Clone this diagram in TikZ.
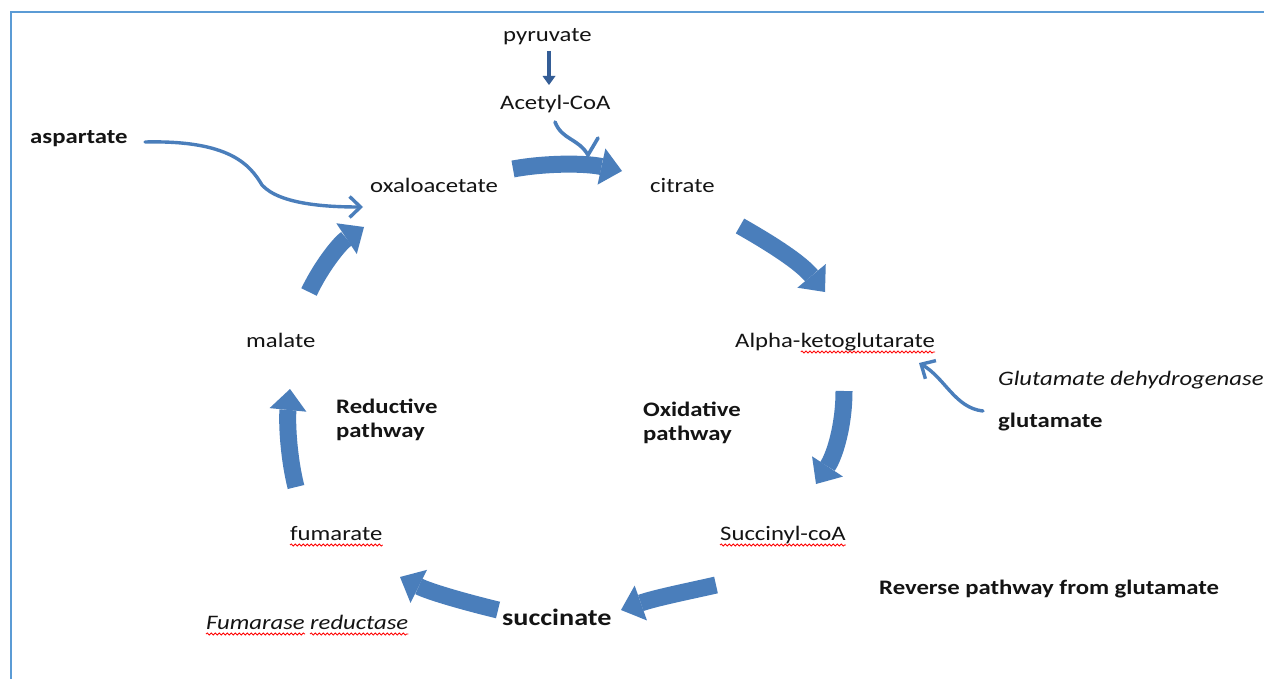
\documentclass[tikz,border=0pt]{standalone}
\usepackage{fontspec}
\setmainfont{Carlito}[FakeStretch=1.2]
\usetikzlibrary{arrows.meta,decorations.pathmorphing}
\definecolor{arrowblue}{RGB}{74,126,187}
\definecolor{darkblue}{RGB}{52,93,150}
\definecolor{framec}{RGB}{91,155,213}
\tikzset{
  txt/.style={font=\fontsize{20.6}{24}\selectfont, inner sep=0pt, text=black!92, anchor=base west},
  bold/.style={txt, font=\fontsize{20.6}{24}\selectfont\bfseries},
  ital/.style={txt, font=\fontsize{20.6}{24}\selectfont\itshape},
  bigarrow/.style={draw=arrowblue, line width=17pt, -{Triangle[width=37pt,length=21pt,line width=0pt]}},
  thinarrow/.style={draw=arrowblue, line width=3.4pt, line cap=round, line join=round, -{Straight Barb[length=11pt,width=21pt,line width=3.4pt]}},
  squig/.style={draw=red, line width=0.8pt, decorate, decoration={snake, amplitude=1.1pt, segment length=4pt}}
}
\begin{document}
\begin{tikzpicture}[x=1pt,y=-1pt]
\useasboundingbox (0,0) rectangle (1264,679);
\fill[white] (0,0) rectangle (1264,679);
\draw[framec, line width=2pt] (11,679) -- (11,12) -- (1264,12);

% metabolites
\node[txt] (pyr) at (503,42) {pyruvate};
\node[txt] (acoa) at (500,110) {Acetyl-CoA};
\node[txt] (oaa) at (370,193) {oxaloacetate};
\node[txt] (cit) at (650,193) {citrate};
\node[bold] (asp) at (30,144) {aspartate};
\node[txt] (akg) at (735,347) {Alpha-};
\node[txt] (akg2) at (akg.base east) {ketoglutarate};
\node[txt] (mal) at (246,347) {malate};
\node[ital] (gdh) at (998,385) {Glutamate dehydrogenase};
\node[bold] (glu) at (998,427) {glutamate};
\node[bold, align=left, anchor=north west] (red) at (336,399) {Reductive\\pathway};
\node[bold, align=left, anchor=north west] (oxi) at (643,402) {Oxidative\\pathway};
\node[txt] (fum) at (290,540) {fumarate};
\node[txt] (sca) at (720,540) {Succinyl-coA};
\node[bold] (rev) at (879,594) {Reverse pathway from glutamate};
\node[txt, font=\fontsize{23.5}{27}\selectfont\bfseries] (suc) at (502,625) {succinate};
\node[ital] (fr) at (206,629) {Fumarase};
\node[ital] (fr2) at ([xshift=5pt]fr.base east) {reductase};

% spelling squiggles
\foreach \n in {akg2,fum,sca,fr,fr2}
  \draw[squig] ([yshift=-5pt]\n.base west) -- ([yshift=-5pt]\n.base east);

% arrow end points
\coordinate (p1) at (549,51);
\coordinate (p2) at (549,85);
\coordinate (a1s) at (513,169);
\coordinate (a1e) at (622,171);
\coordinate (a2s) at (740,226);
\coordinate (a2e) at (825,292);
\coordinate (a3s) at (844,391);
\coordinate (a3e) at (816,484);
\coordinate (a4s) at (716,585);
\coordinate (a4e) at (621,610);
\coordinate (a5s) at (498,610);
\coordinate (a5e) at (400,577);
\coordinate (a6s) at (296,487);
\coordinate (a6e) at (290,389);
\coordinate (a7s) at (309,292);
\coordinate (a7e) at (364,227);
\coordinate (asps) at (145,142);
\coordinate (aspe) at (363,207);
\coordinate (glus) at (983,411);
\coordinate (glue) at (919,363);
\coordinate (acs) at (555,122);
\coordinate (act) at (588,155);
\coordinate (acb) at (598,138);

% pyruvate -> acetyl-CoA
\draw[darkblue, line width=4pt, -{Triangle[width=13pt,length=9pt,line width=0pt]}] (p1) -- (p2);

% cycle arrows
\draw[bigarrow] (a1s) .. controls (545,163) and (585,163) .. (a1e);
\draw[bigarrow] (a2s) .. controls (770,243) and (800,262) .. (a2e);
\draw[bigarrow] (a3s) .. controls (844,425) and (835,455) .. (a3e);
\draw[bigarrow] (a4s) .. controls (685,592) and (655,598) .. (a4e);
\draw[bigarrow] (a5s) .. controls (465,602) and (430,592) .. (a5e);
\draw[bigarrow] (a6s) .. controls (288,455) and (287,420) .. (a6e);
\draw[bigarrow] (a7s) .. controls (322,265) and (340,243) .. (a7e);

% side inputs
\draw[thinarrow] (asps) .. controls (230,140) and (250,165) .. (262,185) .. controls (280,205) and (330,207) .. (aspe);
\draw[thinarrow] (glus) .. controls (955,408) and (945,378) .. (glue);
\draw[draw=arrowblue, line width=3.6pt, line cap=round, line join=miter] (acs) .. controls (562,140) and (578,138) .. (act) -- (acb);
\end{tikzpicture}
\end{document}
